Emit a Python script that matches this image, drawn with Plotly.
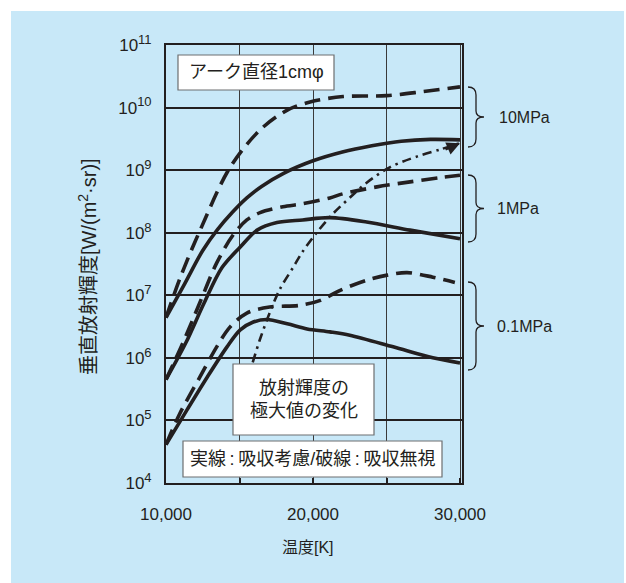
import plotly.graph_objects as go
import math

# ---------------- data ----------------
t_10mpa_dash = [10000, 11000, 12300, 14350, 16400, 18250, 19800, 22050, 25000, 27500, 30000]
v_10mpa_dash = [4.4e6, 2.0e7, 1.07e8, 1.1e9, 4.4e9, 9.1e9, 1.23e10, 1.5e10, 1.55e10, 1.8e10, 2.14e10]

t_10mpa_solid = [10000, 11250, 12500, 13500, 14500, 15500, 16500, 18000, 20000, 22000, 24000, 26000, 28000, 30000]
v_10mpa_solid = [4.4e6, 1.5e7, 5.2e7, 1.12e8, 2.1e8, 3.6e8, 5.5e8, 8.9e8, 1.41e9, 1.95e9, 2.45e9, 2.9e9, 3.1e9, 3.05e9]

t_peak = [15900, 16400, 17100, 17750, 18650, 19300, 20250, 21350, 22700, 23650, 25250, 27100, 28650, 30000]
v_peak = [8.5e5, 2.0e6, 5.6e6, 1.26e7, 2.8e7, 5.0e7, 1.0e8, 2.0e8, 4.0e8, 6.3e8, 1.12e9, 1.66e9, 2.14e9, 2.7e9]

t_1mpa_dash = [10000, 11150, 12300, 13450, 14550, 15500, 16400, 17950, 19300, 21150, 22050, 24350, 26600, 28650, 30000]
v_1mpa_dash = [4.5e5, 1.74e6, 7.6e6, 3.3e7, 9.1e7, 1.6e8, 2.1e8, 2.6e8, 2.9e8, 3.6e8, 4.2e8, 5.4e8, 6.5e8, 7.6e8, 8.3e8]

t_1mpa_solid = [10000, 11350, 12600, 13800, 15050, 16200, 17550, 19300, 21150, 23650, 26600, 30000]
v_1mpa_solid = [4.5e5, 1.74e6, 7.6e6, 2.75e7, 5.9e7, 1.1e8, 1.45e8, 1.6e8, 1.74e8, 1.48e8, 1.1e8, 8.0e7]

t_01mpa_dash = [10000, 10950, 12300, 13450, 14350, 15500, 17050, 19100, 20500, 21850, 23650, 25050, 26400, 28150, 29650]
v_01mpa_dash = [4.1e4, 1.3e5, 4.9e5, 1.5e6, 3.1e6, 5.2e6, 6.5e6, 6.9e6, 8.3e6, 1.2e7, 1.74e7, 2.1e7, 2.3e7, 1.95e7, 1.6e7]

t_01mpa_solid = [10000, 11450, 12800, 14150, 15050, 15900, 16850, 18250, 19600, 21150, 22500, 25450, 28150, 30000]
v_01mpa_solid = [4.1e4, 1.5e5, 4.9e5, 1.5e6, 2.8e6, 3.7e6, 4.1e6, 3.5e6, 2.9e6, 2.6e6, 2.3e6, 1.5e6, 1.0e6, 8.3e5]

x_tickvals = [10000, 15000, 20000, 25000, 30000]
x_ticktext = ["10,000", "", "20,000", "", "30,000"]
y_tickvals = [1e4, 1e5, 1e6, 1e7, 1e8, 1e9, 1e10, 1e11]
y_exponents = [4, 5, 6, 7, 8, 9, 10, 11]
y_ticktext = ["10<sup><span style='font-size:13px'>%d</span></sup>" % e for e in y_exponents]

pressure_labels = ["10MPa", "1MPa", "0.1MPa"]

# ---------------- layout geometry (pixels) ----------------
W, H = 626, 583
L, R, T, B = 166, 462, 45, 483
BG = "#C8E8F8"
FONT = "Liberation Sans, Arial, Noto Sans CJK JP, sans-serif"
TXT = "#231f20"


def px(x):
    return (x - L) / (R - L)


def py(y):
    return (B - y) / (B - T)


fig = go.Figure()

solid = dict(color="#231f20", width=3.6)
dash = dict(color="#231f20", width=3.6, dash="16px,8px")
dashdot = dict(color="#231f20", width=2.6, dash="9px,5px,2.5px,5px")

for t, v, ln in [
    (t_10mpa_dash, v_10mpa_dash, dash),
    (t_10mpa_solid, v_10mpa_solid, solid),
    (t_1mpa_dash, v_1mpa_dash, dash),
    (t_1mpa_solid, v_1mpa_solid, solid),
    (t_01mpa_dash, v_01mpa_dash, dash),
    (t_01mpa_solid, v_01mpa_solid, solid),
    (t_peak, v_peak, dashdot),
]:
    fig.add_trace(go.Scatter(x=t, y=v, mode="lines",
                             line=dict(shape="spline", smoothing=0.9, **ln),
                             showlegend=False, hoverinfo="skip"))

shapes = []
# light blue panel
shapes.append(dict(type="rect", xref="paper", yref="paper", layer="below",
                   x0=px(11), x1=px(624), y0=py(11), y1=py(590),
                   fillcolor=BG, line=dict(width=0)))

# text boxes
TS = "\u2009"
boxes = [
    ((178, 55, 334, 90), ["アーク直径1cmφ"]),
    ((233, 364, 374, 435), ["放射輝度の", "極大値の変化"]),
    ((183, 441, 442, 477), ["実線" + TS + ":" + TS + "吸収考慮/破線" + TS + ":" + TS + "吸収無視"]),
]
annotations = []
for (x0, y0, x1, y1), lines in boxes:
    shapes.append(dict(type="rect", xref="paper", yref="paper", layer="above",
                       x0=px(x0), x1=px(x1), y0=py(y0), y1=py(y1),
                       fillcolor="white", line=dict(color="#6d6e70", width=1.2)))
    annotations.append(dict(xref="paper", yref="paper", x=px((x0 + x1) / 2), y=py((y0 + y1) / 2),
                            text="<br>".join(lines), showarrow=False,
                            font=dict(family=FONT, size=18, color=TXT),
                            align="center", xanchor="center", yanchor="middle"))

# braces for pressure groups
braces = [(87, 147), (175, 242), (282, 370)]
label_x = [497, 495, 495]
for (top, bot), lab, lx in zip(braces, pressure_labels, label_x):
    mid = (top + bot) / 2
    xa, xb, xc = 468, 476, 484
    pts = [
        ("M", [(xa, top)]),
        ("Q", [(xb, top), (xb, top + 8)]),
        ("L", [(xb, mid - 6)]),
        ("Q", [(xb, mid), (xc, mid)]),
        ("Q", [(xb, mid), (xb, mid + 6)]),
        ("L", [(xb, bot - 8)]),
        ("Q", [(xb, bot), (xa, bot)]),
    ]
    path = " ".join(cmd + " " + " ".join("%.5f,%.5f" % (px(a), py(b)) for a, b in p) for cmd, p in pts)
    shapes.append(dict(type="path", xref="paper", yref="paper", path=path,
                       line=dict(color=TXT, width=1.3)))
    annotations.append(dict(xref="paper", yref="paper", x=px(lx), y=py(mid), text=lab,
                            showarrow=False, xanchor="left", yanchor="middle",
                            font=dict(family=FONT, size=16, color=TXT)))

# arrow head at end of the dash-dot line
annotations.append(dict(x=t_peak[-1], y=math.log10(v_peak[-1]), xref="x", yref="y",
                        ax=-16, ay=7, text="", showarrow=True,
                        arrowhead=2, arrowsize=1.1, arrowwidth=2.4, arrowcolor="#231f20"))

# axis titles
annotations.append(dict(xref="paper", yref="paper", x=px(87), y=py(267),
                        text="垂直放射輝度[W/(m<sup>2</sup>·sr)]", textangle=-90, showarrow=False,
                        font=dict(family=FONT, size=20, color=TXT), xanchor="center", yanchor="middle"))
annotations.append(dict(xref="paper", yref="paper", x=px(308), y=py(547),
                        text="温度[K]", showarrow=False,
                        font=dict(family=FONT, size=16, color=TXT), xanchor="center", yanchor="middle"))

fig.update_layout(
    width=W, height=H,
    margin=dict(l=L, r=W - R, t=T, b=H - B, pad=0),
    paper_bgcolor="white", plot_bgcolor="white",
    font=dict(family=FONT, color=TXT),
    shapes=shapes, annotations=annotations,
    showlegend=False,
)
fig.update_xaxes(range=[10000, 30136], tickvals=x_tickvals, ticktext=x_ticktext,
                 showgrid=True, gridcolor="#3a3a3a", gridwidth=1.2,
                 showline=True, linecolor="#231f20", linewidth=2, mirror=True,
                 ticks="inside", ticklen=5, tickwidth=2, tickcolor="#231f20",
                 ticklabelstandoff=15, zeroline=False,
                 tickfont=dict(family=FONT, size=17, color=TXT))
fig.update_yaxes(type="log", range=[4, 11], tickvals=y_tickvals, ticktext=y_ticktext,
                 showgrid=True, gridcolor="#231f20", gridwidth=2,
                 showline=True, linecolor="#231f20", linewidth=2, mirror=True,
                 ticks="", ticklabelstandoff=9, zeroline=False,
                 tickfont=dict(family=FONT, size=17, color=TXT))

fig.write_html("out.html", config={"displayModeBar": False},
               post_script="document.body.style.margin='0';document.body.style.overflow='hidden';")
